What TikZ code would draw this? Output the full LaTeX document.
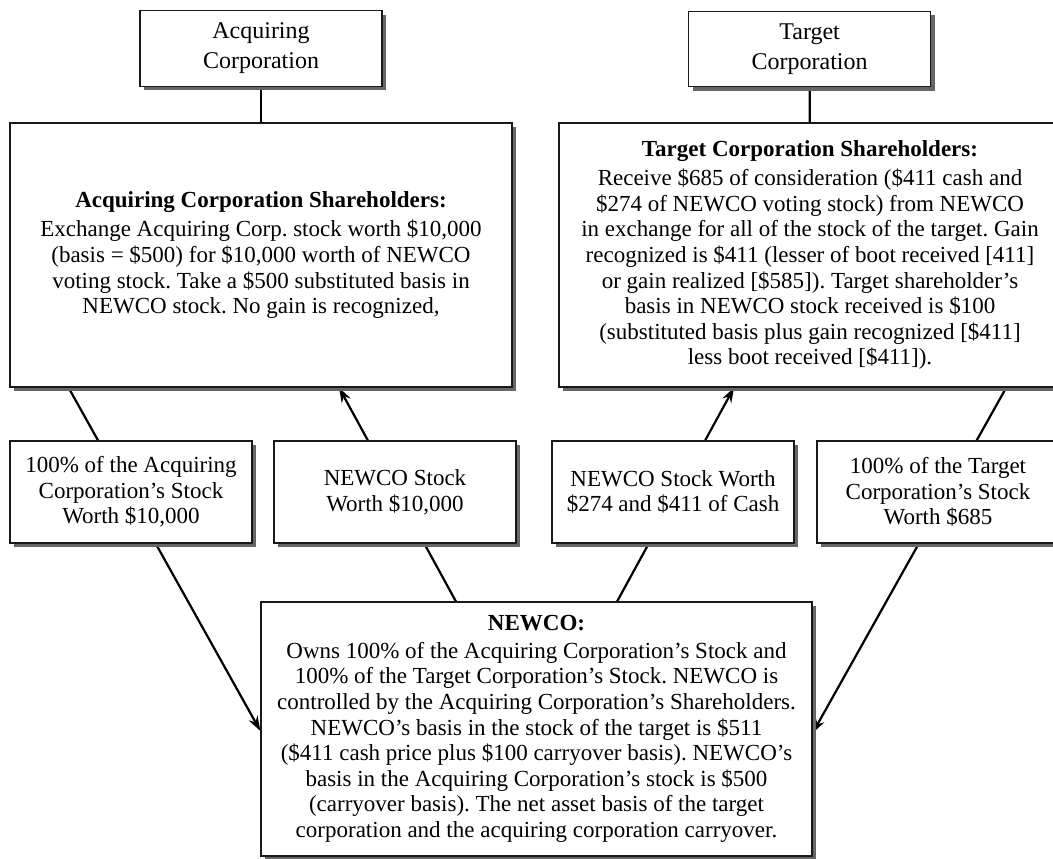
\documentclass[tikz,border=0pt]{standalone}
\usepackage{fontspec}
\setmainfont{Liberation Serif}
\frenchspacing
\usetikzlibrary{arrows.meta,shadows,calc,backgrounds}

\tikzset{
    box/.style={draw=black!90, line width=0.6pt, fill=white, align=center, inner sep=0pt,
        font=\fontsize{11.5}{12.8}\selectfont,
        drop shadow={shadow xshift=2pt, shadow yshift=-2pt, fill=black!60, opacity=1}},
    corpbox/.style={box, minimum width=121pt, minimum height=37.7pt,
        font=\fontsize{12}{15}\selectfont},
    holderbox/.style={box, minimum width=251pt, minimum height=132pt},
    stockbox/.style={box, minimum width=121pt, minimum height=51pt},
    newcobox/.style={box, minimum width=275.5pt, minimum height=127pt},
    conn/.style={black, line width=1.1pt},
    flow/.style={conn, -{Stealth[length=7.5pt, width=5pt, inset=2.5pt]}}
}

\begin{document}
\begin{tikzpicture}[x=0.5pt, y=-0.5pt]
    \useasboundingbox (0,0) rectangle (1053,858);
    \clip (0,0) rectangle (1053,858);

    % corporations and their shareholders
    \node[corpbox] (acq) at (261,48.5) {Acquiring\\Corporation};
    \node[corpbox] (tgt) at (809.6,49) {Target\\Corporation};
    \node[holderbox] (acqsh) at (261,255) {\textbf{Acquiring Corporation Shareholders:}\\[2pt]
        Exchange Acquiring Corp. stock worth \$10,000\\
        (basis = \$500) for \$10,000 worth of NEWCO\\
        voting stock. Take a \$500 substituted basis in\\
        NEWCO stock. No gain is recognized,};
    \node[holderbox] (tgtsh) at (810,255) {\textbf{Target Corporation Shareholders:}\\[2pt]
        Receive \$685 of consideration (\$411 cash and\\
        \$274 of NEWCO voting stock) from NEWCO\\
        in exchange for all of the stock of the target. Gain\\
        recognized is \$411 (lesser of boot received [411]\\
        or gain realized [\$585]). Target shareholder's\\
        basis in NEWCO stock received is \$100\\
        (substituted basis plus gain recognized [\$411]\\
        less boot received [\$411]).};

    % what changes hands
    \node[stockbox] (acqstock) at (131,492) {100\% of the Acquiring\\Corporation's Stock\\Worth \$10,000};
    \node[stockbox] (newstock) at (395,492) {NEWCO Stock\\Worth \$10,000};
    \node[stockbox] (newcash) at (673,492) {NEWCO Stock Worth\\\$274 and \$411 of Cash};
    \node[stockbox] (tgtstock) at (938,492) {100\% of the Target\\Corporation's Stock\\Worth \$685};

    \node[newcobox] (newco) at (536.5,729) {\textbf{NEWCO:}\\[1pt]
        Owns 100\% of the Acquiring Corporation's Stock and\\
        100\% of the Target Corporation's Stock. NEWCO is\\
        controlled by the Acquiring Corporation's Shareholders.\\
        NEWCO's basis in the stock of the target is \$511\\
        (\$411 cash price plus \$100 carryover basis). NEWCO's\\
        basis in the Acquiring Corporation's stock is \$500\\
        (carryover basis). The net asset basis of the target\\
        corporation and the acquiring corporation carryover.};

    % connectors run behind the stock boxes
    \begin{pgfonlayer}{background}
        \draw[conn] (acq) -- (acqsh);
        \draw[conn] (tgt) -- (tgtsh);
        \draw[flow] ($(acqsh.south west)!0.1175!(acqsh.south east)$) -- ([yshift=-1pt]newco.west);
        \draw[flow] ($(newco.north west)!0.354!(newco.north east)$) -- ($(acqsh.south west)!0.655!(acqsh.south east)$);
        \draw[flow] ($(newco.north west)!0.646!(newco.north east)$) -- ($(tgtsh.south west)!0.349!(tgtsh.south east)$);
        \draw[flow] ($(tgtsh.south west)!0.89!(tgtsh.south east)$) -- ([yshift=-2pt]newco.east);
    \end{pgfonlayer}
\end{tikzpicture}
\end{document}
